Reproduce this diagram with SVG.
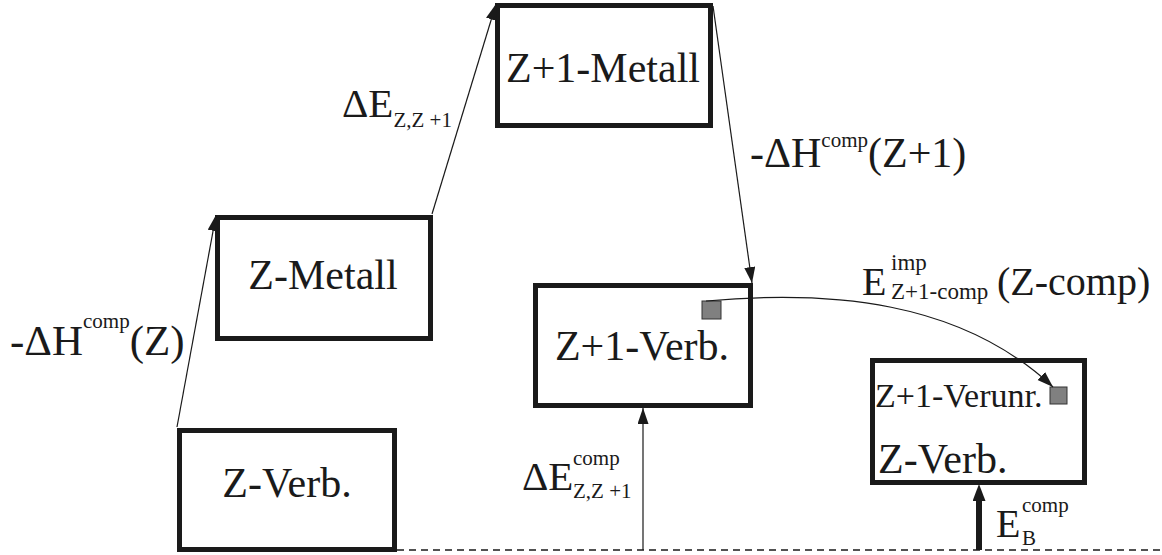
<svg xmlns="http://www.w3.org/2000/svg" width="1162" height="555" viewBox="0 0 1162 555">
<style>
.box{fill:#fff;stroke:#1a1a1a;stroke-width:5}
text{font-family:'Liberation Serif','Tinos','DejaVu Serif',serif;fill:#1a1a1a}
.big{font-size:42px}
.sm{font-size:21px}
.conn{fill:none;stroke:#1a1a1a;stroke-width:1.2}
.imp{fill:#808080;stroke:#333;stroke-width:1}
</style>
<defs>
<marker id="ah" markerUnits="userSpaceOnUse" markerWidth="18" markerHeight="12" refX="16" refY="5.5" orient="auto">
<path d="M0,0 L16,5.5 L0,11 z" fill="#1a1a1a"/>
</marker>
<marker id="ahb" markerUnits="userSpaceOnUse" markerWidth="18" markerHeight="14" refX="0" refY="6.5" orient="auto">
<path d="M0,0 L17,6.5 L0,13 z" fill="#1a1a1a"/>
</marker>
</defs>

<g id="baseline">
<line x1="397" y1="550" x2="1162" y2="550" stroke="#1a1a1a" stroke-width="1.3" stroke-dasharray="7 5"/>
</g>

<g id="z-verb">
<rect class="box" x="179.5" y="430.5" width="215" height="119"/>
<text class="big" x="287" y="497" text-anchor="middle">Z-Verb.</text>
</g>

<g id="z-metall">
<rect class="box" x="217.5" y="217.5" width="213" height="121"/>
<text class="big" x="323" y="289" text-anchor="middle">Z-Metall</text>
</g>

<g id="z1-metall">
<rect class="box" x="497.5" y="5.5" width="213" height="120"/>
<text class="big" x="603" y="82" text-anchor="middle">Z+1-Metall</text>
</g>

<g id="z1-verb">
<rect class="box" x="535.5" y="285.5" width="215" height="120"/>
<text class="big" x="642" y="360" text-anchor="middle">Z+1-Verb.</text>
<rect class="imp" x="702" y="301" width="19" height="18"/>
</g>

<g id="z-verb-imp">
<rect class="box" x="872.5" y="360.5" width="212" height="122"/>
<text font-size="34" x="875" y="407">Z+1-Verunr.</text>
<rect class="imp" x="1050" y="387" width="17" height="17"/>
<text class="big" x="878" y="473">Z-Verb.</text>
</g>

<g id="connectors">
<line class="conn" x1="177" y1="427" x2="216" y2="215" marker-end="url(#ah)"/>
<line class="conn" x1="432" y1="214" x2="496" y2="4" marker-end="url(#ah)"/>
<line class="conn" x1="713" y1="6" x2="752" y2="283" marker-end="url(#ah)"/>
<line class="conn" x1="643" y1="550" x2="643" y2="408" marker-end="url(#ah)"/>
<line x1="979" y1="550" x2="979" y2="501" stroke="#1a1a1a" stroke-width="6" marker-end="url(#ahb)"/>
<path class="conn" d="M706,301 C830,290 960,300 1053,387" marker-end="url(#ah)"/>
</g>

<g id="labels">
<text x="10" y="355"><tspan font-size="43">-ΔH</tspan><tspan font-size="21" dy="-27">comp</tspan><tspan font-size="43" dy="27">(Z)</tspan></text>
<text x="342" y="117"><tspan font-size="41">ΔE</tspan><tspan font-size="21" dy="10">Z,Z +1</tspan></text>
<text x="750" y="167"><tspan font-size="42">-ΔH</tspan><tspan font-size="21" dy="-20">comp</tspan><tspan font-size="42" dy="20">(Z+1)</tspan></text>
<text x="862" y="295" font-size="40">E</text>
<text x="891" y="270" font-size="23">imp</text>
<text x="891" y="299" font-size="23">Z+1-comp</text>
<text x="997" y="295" font-size="40">(Z-comp)</text>
<text x="522" y="490" font-size="41">ΔE</text>
<text class="sm" x="573" y="465">comp</text>
<text class="sm" x="573" y="498">Z,Z +1</text>
<text x="996" y="537" font-size="40">E</text>
<text class="sm" x="1022" y="512">comp</text>
<text class="sm" x="1022" y="545">B</text>
</g>
</svg>
